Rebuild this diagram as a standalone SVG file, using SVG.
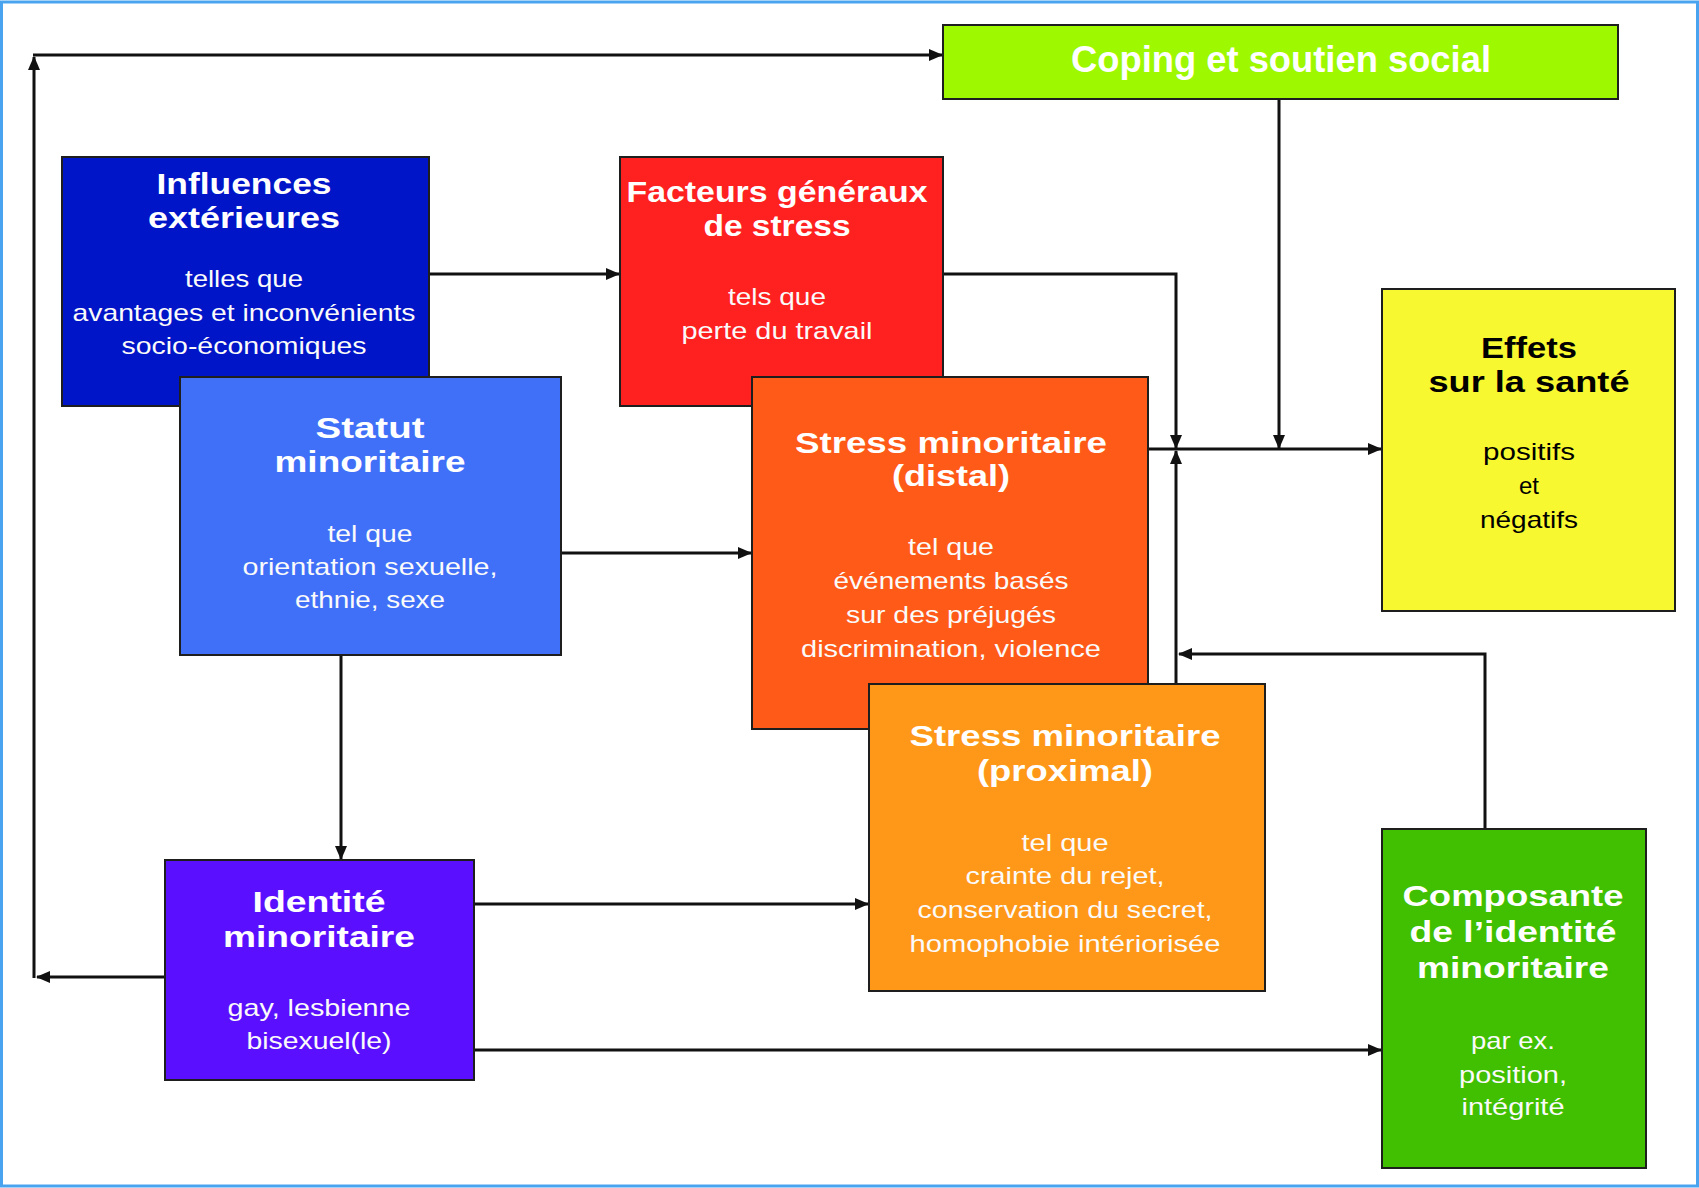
<svg xmlns="http://www.w3.org/2000/svg" width="1699" height="1188" viewBox="0 0 1699 1188">
<style>
.box{stroke:#1e1e1e;stroke-width:2}
.t{font-family:"Liberation Sans",Arial,sans-serif;font-weight:bold;font-size:30px;fill:#fff;text-anchor:middle}
.b{font-family:"Liberation Sans",Arial,sans-serif;font-size:24px;fill:#fafafa;text-anchor:middle}
.dk{fill:#000}
.c{fill:none;stroke:#111;stroke-width:3}
</style>
<defs>
<marker id="ah" markerUnits="userSpaceOnUse" markerWidth="14" markerHeight="12" refX="13" refY="6" orient="auto">
<path d="M0,0 L14,6 L0,12 z" fill="#111"/>
</marker>
</defs>
<rect x="1.5" y="2" width="1696" height="1184" fill="#fff" stroke="#4aa3ee" stroke-width="3"/>

<g id="connectors">
<path class="c" d="M165,977 H37" marker-end="url(#ah)"/>
<path class="c" d="M34,978 V57" marker-end="url(#ah)"/>
<path class="c" d="M33,55 H942" marker-end="url(#ah)"/>
<path class="c" d="M429,274 H619" marker-end="url(#ah)"/>
<path class="c" d="M943,274 H1176 V448" marker-end="url(#ah)"/>
<path class="c" d="M1279,99 V448" marker-end="url(#ah)"/>
<path class="c" d="M1148,449 H1381" marker-end="url(#ah)"/>
<path class="c" d="M1176,684 V451" marker-end="url(#ah)"/>
<path class="c" d="M1485,829 V654 H1179" marker-end="url(#ah)"/>
<path class="c" d="M561,553 H751" marker-end="url(#ah)"/>
<path class="c" d="M341,655 V859" marker-end="url(#ah)"/>
<path class="c" d="M474,904 H868" marker-end="url(#ah)"/>
<path class="c" d="M474,1050 H1381" marker-end="url(#ah)"/>
</g>

<g id="coping">
<rect class="box" x="943" y="25" width="675" height="74" fill="#9ef800"/>
<text class="t" x="1281" y="72" style="font-size:36px" textLength="420" lengthAdjust="spacingAndGlyphs">Coping et soutien social</text>
</g>

<g id="influences">
<rect class="box" x="62" y="157" width="367" height="249" fill="#0014c8"/>
<text class="t" x="244" y="194" textLength="175" lengthAdjust="spacingAndGlyphs">Influences</text>
<text class="t" x="244" y="228" textLength="192" lengthAdjust="spacingAndGlyphs">extérieures</text>
<text class="b" x="244" y="287" textLength="118" lengthAdjust="spacingAndGlyphs">telles que</text>
<text class="b" x="244" y="321" textLength="343" lengthAdjust="spacingAndGlyphs">avantages et inconvénients</text>
<text class="b" x="244" y="354" textLength="245" lengthAdjust="spacingAndGlyphs">socio-économiques</text>
</g>

<g id="facteurs">
<rect class="box" x="620" y="157" width="323" height="249" fill="#ff2020"/>
<text class="t" x="777" y="202" textLength="301" lengthAdjust="spacingAndGlyphs">Facteurs généraux</text>
<text class="t" x="777" y="236" textLength="147" lengthAdjust="spacingAndGlyphs">de stress</text>
<text class="b" x="777" y="305" textLength="98" lengthAdjust="spacingAndGlyphs">tels que</text>
<text class="b" x="777" y="339" textLength="191" lengthAdjust="spacingAndGlyphs">perte du travail</text>
</g>

<g id="statut">
<rect class="box" x="180" y="377" width="381" height="278" fill="#4070f8"/>
<text class="t" x="370" y="438" textLength="109" lengthAdjust="spacingAndGlyphs">Statut</text>
<text class="t" x="370" y="472" textLength="191" lengthAdjust="spacingAndGlyphs">minoritaire</text>
<text class="b" x="370" y="542" textLength="85" lengthAdjust="spacingAndGlyphs">tel que</text>
<text class="b" x="370" y="575" textLength="255" lengthAdjust="spacingAndGlyphs">orientation sexuelle,</text>
<text class="b" x="370" y="608" textLength="150" lengthAdjust="spacingAndGlyphs">ethnie, sexe</text>
</g>

<g id="distal">
<rect class="box" x="752" y="377" width="396" height="352" fill="#ff5a18"/>
<text class="t" x="951" y="453" textLength="312" lengthAdjust="spacingAndGlyphs">Stress minoritaire</text>
<text class="t" x="951" y="486" textLength="118" lengthAdjust="spacingAndGlyphs">(distal)</text>
<text class="b" x="951" y="555" textLength="86" lengthAdjust="spacingAndGlyphs">tel que</text>
<text class="b" x="951" y="589" textLength="235" lengthAdjust="spacingAndGlyphs">événements basés</text>
<text class="b" x="951" y="623" textLength="210" lengthAdjust="spacingAndGlyphs">sur des préjugés</text>
<text class="b" x="951" y="657" textLength="300" lengthAdjust="spacingAndGlyphs">discrimination, violence</text>
</g>

<g id="effets">
<rect class="box" x="1382" y="289" width="293" height="322" fill="#f8f830"/>
<text class="t dk" x="1529" y="358" textLength="96" lengthAdjust="spacingAndGlyphs">Effets</text>
<text class="t dk" x="1529" y="392" textLength="201" lengthAdjust="spacingAndGlyphs">sur la santé</text>
<text class="b dk" x="1529" y="460" textLength="92" lengthAdjust="spacingAndGlyphs">positifs</text>
<text class="b dk" x="1529" y="494">et</text>
<text class="b dk" x="1529" y="528" textLength="98" lengthAdjust="spacingAndGlyphs">négatifs</text>
</g>

<g id="proximal">
<rect class="box" x="869" y="684" width="396" height="307" fill="#ff9818"/>
<text class="t" x="1065" y="746" textLength="311" lengthAdjust="spacingAndGlyphs">Stress minoritaire</text>
<text class="t" x="1065" y="781" textLength="176" lengthAdjust="spacingAndGlyphs">(proximal)</text>
<text class="b" x="1065" y="851" textLength="87" lengthAdjust="spacingAndGlyphs">tel que</text>
<text class="b" x="1065" y="884" textLength="199" lengthAdjust="spacingAndGlyphs">crainte du rejet,</text>
<text class="b" x="1065" y="918" textLength="295" lengthAdjust="spacingAndGlyphs">conservation du secret,</text>
<text class="b" x="1065" y="952" textLength="311" lengthAdjust="spacingAndGlyphs">homophobie intériorisée</text>
</g>

<g id="composante">
<rect class="box" x="1382" y="829" width="264" height="339" fill="#40c000"/>
<text class="t" x="1513" y="906" textLength="221" lengthAdjust="spacingAndGlyphs">Composante</text>
<text class="t" x="1513" y="942" textLength="207" lengthAdjust="spacingAndGlyphs">de l’identité</text>
<text class="t" x="1513" y="978" textLength="192" lengthAdjust="spacingAndGlyphs">minoritaire</text>
<text class="b" x="1513" y="1049" textLength="84" lengthAdjust="spacingAndGlyphs">par ex.</text>
<text class="b" x="1513" y="1083" textLength="108" lengthAdjust="spacingAndGlyphs">position,</text>
<text class="b" x="1513" y="1115" textLength="103" lengthAdjust="spacingAndGlyphs">intégrité</text>
</g>

<g id="identite">
<rect class="box" x="165" y="860" width="309" height="220" fill="#5a10ff"/>
<text class="t" x="319" y="912" textLength="133" lengthAdjust="spacingAndGlyphs">Identité</text>
<text class="t" x="319" y="947" textLength="192" lengthAdjust="spacingAndGlyphs">minoritaire</text>
<text class="b" x="319" y="1016" textLength="183" lengthAdjust="spacingAndGlyphs">gay, lesbienne</text>
<text class="b" x="319" y="1049" textLength="145" lengthAdjust="spacingAndGlyphs">bisexuel(le)</text>
</g>
</svg>
